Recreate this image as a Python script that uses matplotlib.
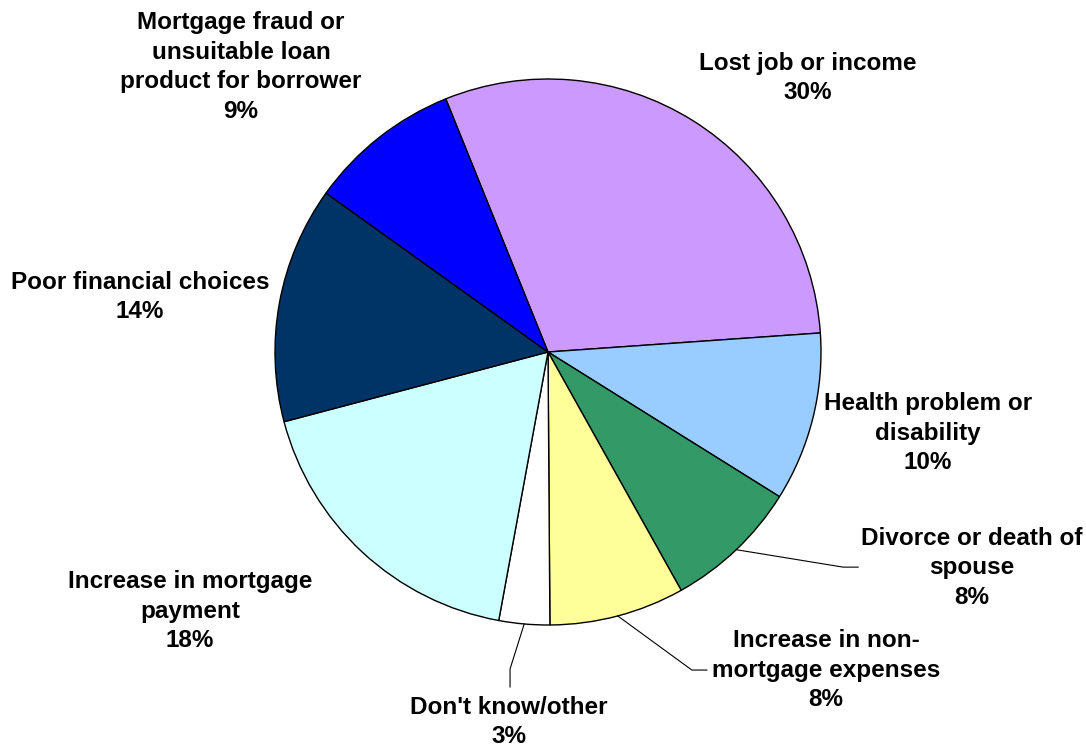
import matplotlib.pyplot as plt
import numpy as np

# reasons for falling behind, share of respondents (%)
reasons = ['Lost job or income', 'Health problem or\ndisability', 'Divorce or death of\nspouse',
           'Increase in non-\nmortgage expenses', "Don't know/other", 'Increase in mortgage\npayment',
           'Poor financial choices', 'Mortgage fraud or\nunsuitable loan\nproduct for borrower']
shares = [30, 10, 8, 8, 3, 18, 14, 9]
colors = ['#CC99FF', '#99CCFF', '#339966', '#FFFF99', '#FFFFFF', '#CCFFFF', '#003366', '#0000FF']

# label centres, in pie radius units
label_pos = [(0.952, 1.004), (1.392, -0.297), (1.553, -0.791), (1.018, -1.165),
             (-0.143, -1.355), (-1.311, -0.949), (-1.495, 0.201), (-1.125, 1.044)]
# leader line elbows for the small slices (index -> [elbow, end])
leaders = {2: [(1.081, -0.788), (1.136, -0.788)],
           3: [(0.527, -1.165), (0.582, -1.165)],
           4: [(-0.139, -1.161), (-0.139, -1.227)]}

W, H = 1086, 749
cx, cy, r = 548, 352, 273

fig = plt.figure(figsize=(W / 100, H / 100), dpi=100)
ax = fig.add_axes([(cx - r) / W, (H - cy - r) / H, 2 * r / W, 2 * r / H])
wedges, _ = ax.pie(shares, colors=colors, startangle=112, counterclock=False,
                   wedgeprops=dict(edgecolor='black', linewidth=1.0))
ax.set_xlim(-1, 1)
ax.set_ylim(-1, 1)
ax.set_aspect('equal')
ax.axis('off')

for i, w in enumerate(wedges):
    x, y = label_pos[i]
    ax.text(x, y, '%s\n%d%%' % (reasons[i], shares[i]), ha='center', va='center',
            fontsize=17.5, fontweight='bold', family='Liberation Sans',
            linespacing=1.37, clip_on=False)
    if i in leaders:
        mid = np.deg2rad((w.theta1 + w.theta2) / 2)
        pts = [(np.cos(mid), np.sin(mid))] + leaders[i]
        xs, ys = zip(*pts)
        ax.plot(xs, ys, color='black', linewidth=0.8, clip_on=False)

fig.savefig('out.png', dpi=100)
